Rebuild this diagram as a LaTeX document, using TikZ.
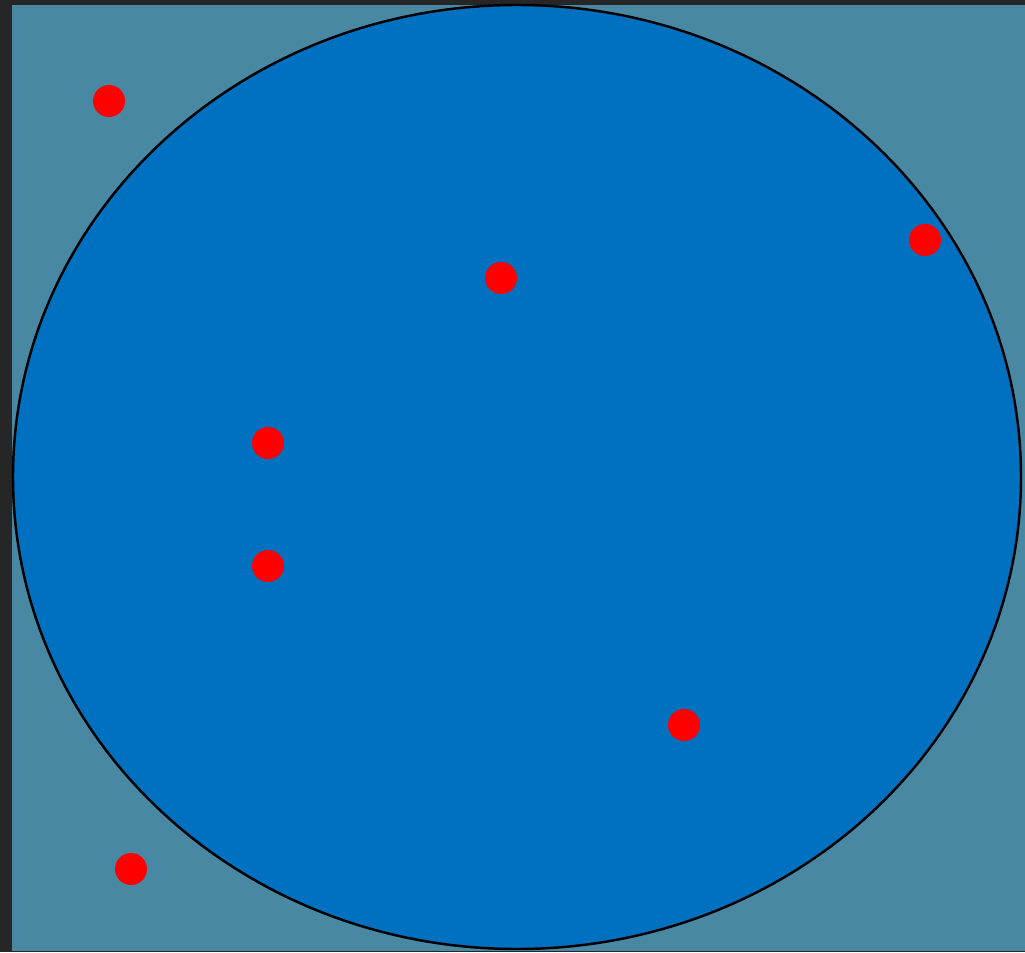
\documentclass[tikz,border=0pt]{standalone}
\usepackage{xcolor}
\usepackage{tikz}
\usetikzlibrary{positioning}
\definecolor{BoardDark}{RGB}{38,38,38}
\definecolor{SlateTeal}{RGB}{72,136,162}
\definecolor{DiscBlue}{RGB}{0,112,192}
\definecolor{DotRed}{RGB}{255,0,0}
\tikzset{
  board/.style={fill=BoardDark, draw=none},
  square/.style={fill=SlateTeal, draw=none},
  disc/.style={fill=DiscBlue, draw=black, line width=0.7pt},
  dot/.style={circle, fill=DotRed, draw=none, minimum size=0.32cm, inner sep=0pt},
}

\begin{document}
\begin{tikzpicture}
    \fill[board] (0,0) rectangle (10.25,9.52);
    \useasboundingbox (0,0) rectangle (10.25,9.52);
    \fill[square] (0.12,0.01) rectangle (10.25,9.47);
    \draw[disc] (5.17,4.75) ellipse [x radius=5.04, y radius=4.72];
    \foreach \n/\x/\y in {p1/1.09/8.51, p2/9.25/7.12, p3/5.01/6.74, p4/2.68/5.09,
                          p5/2.68/3.86, p6/6.84/2.27, p7/1.31/0.83} {
      \node[dot] (\n) at (\x,\y) {};
    }
  \end{tikzpicture}
\end{document}
